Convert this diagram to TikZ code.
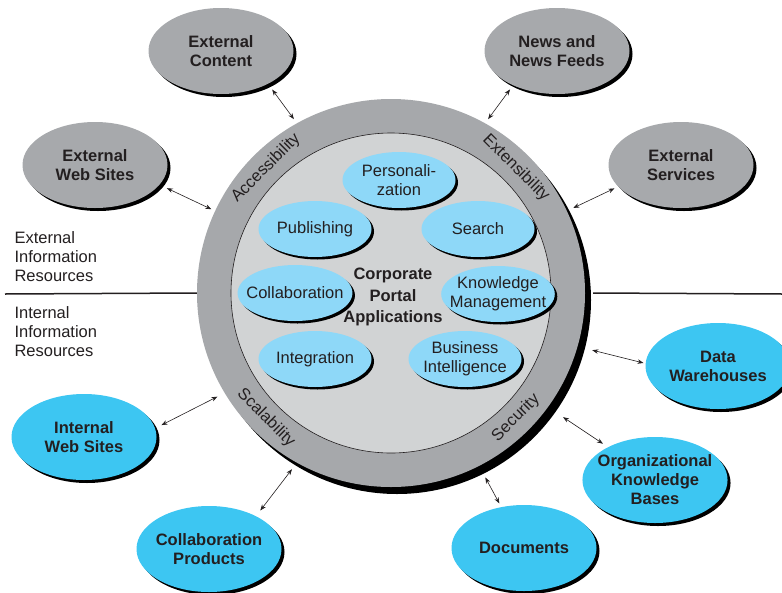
\documentclass[tikz,border=0pt]{standalone}
\usepackage{fontspec}
\setmainfont{Liberation Sans}
\usetikzlibrary{shapes.geometric,shadows,arrows.meta}

\definecolor{extgray}{HTML}{A7A9AC}
\definecolor{ringgray}{HTML}{A6A8AB}
\definecolor{coregray}{HTML}{D1D3D4}
\definecolor{intblue}{HTML}{3DC6F2}
\definecolor{appblue}{HTML}{8ED8F8}
\definecolor{textdark}{HTML}{231F20}

\newcommand{\diagfont}{\fontsize{16.5}{19}\selectfont}

\begin{document}
\begin{tikzpicture}[x=1pt, y=-1pt,
  resource/.style={ellipse, minimum width=145pt, minimum height=86pt, inner xsep=-6pt, inner ysep=0pt,
    align=center, font=\diagfont\bfseries, text=textdark,
    drop shadow={shadow xshift=3pt, shadow yshift=-3pt, fill=black, opacity=1}},
  external/.style={resource, fill=extgray},
  internal/.style={resource, fill=intblue},
  app/.style={ellipse, minimum width=113pt, minimum height=56pt, inner xsep=-8pt, inner ysep=0pt,
    align=center, fill=appblue, font=\diagfont, text=textdark,
    drop shadow={shadow xshift=2.5pt, shadow yshift=-2.5pt, fill=black, opacity=1}},
  quality/.style={font=\diagfont, text=textdark},
  sidenote/.style={font=\diagfont, text=textdark, align=left, anchor=west},
  link/.style={{Stealth[length=6pt,width=4.5pt]}-{Stealth[length=6pt,width=4.5pt]}, line width=0.6pt, textdark},
  divider/.style={line width=1.5pt, textdark}]
  \useasboundingbox (0,0) rectangle (782,592);

  % Dividing line between external and internal resources
  \coordinate (divL) at (5,294);
  \coordinate (divR) at (782,294);
  \node[circle, minimum size=388pt, inner sep=0pt] (portalbox) at (391,293) {};
  \draw[divider] (divL) -- (portalbox.west);
  \draw[divider] ([xshift=8pt]portalbox.east) -- (divR);
  \node[sidenote] (extnote) at (11,257) {External\\Information\\Resources};
  \node[sidenote] (intnote) at (11,332) {Internal\\Information\\Resources};

  % Portal ring and core
  \node[circle, minimum size=388pt, inner sep=0pt, fill=ringgray,
    drop shadow={shadow xshift=6pt, shadow yshift=-7pt, fill=black, opacity=1}] (portal) at (391,293) {};
  \node[circle, minimum size=320pt, inner sep=0pt, fill=coregray, draw=textdark, line width=0.6pt] (core) at (391,293) {};

  % Qualities written along the ring
  \node[quality, rotate=45] (access) at (266,168) {Accessibility};
  \node[quality, rotate=-45] (extens) at (516,168) {Extensibility};
  \node[quality, rotate=-45] (scal) at (266,418) {Scalability};
  \node[quality, rotate=45] (secur) at (516,418) {Security};

  % Portal applications
  \node[app] (personal) at (399,180) {Personali-\\zation};
  \node[app] (publishing) at (315,229) {Publishing};
  \node[app] (search) at (478,229) {Search};
  \node[app] (collab) at (295,293) {Collaboration};
  \node[app] (knowledge) at (498,294) {Knowledge\\Management};
  \node[app] (integration) at (315,359) {Integration};
  \node[app] (business) at (465,359) {Business\\Intelligence};
  \node[font=\fontsize{16.5}{21.5}\selectfont\bfseries, text=textdark, align=center] (center) at (393,297) {Corporate\\Portal\\Applications};

  % External information resources
  \node[external] (extcontent) at (221,51) {External\\Content};
  \node[external] (newsfeeds) at (557,51) {News and\\News Feeds};
  \node[external] (extweb) at (95,165) {External\\Web Sites};
  \node[external] (extserv) at (681,165) {External\\Services};

  % Internal information resources
  \node[internal] (intweb) at (84,437) {Internal\\Web Sites};
  \node[internal] (collabprod) at (209,549) {Collaboration\\Products};
  \node[internal] (warehouses) at (718,366) {Data\\Warehouses};
  \node[internal] (orgkb) at (655,480) {Organizational\\Knowledge\\Bases};
  \node[internal] (documents) at (524,548) {Documents};

  % Two-way links to the portal
  \draw[link, shorten <=7pt, shorten >=5pt] (extcontent.-35) -- (portal.119);
  \draw[link, shorten <=8pt, shorten >=4pt] (extweb.-17) -- (portal.155);
  \draw[link, shorten <=5pt, shorten >=5pt] (newsfeeds.218) -- (portal.61);
  \draw[link, shorten <=4pt, shorten >=7pt] (extserv.199) -- (portal.25);
  \draw[link, shorten <=7pt, shorten >=8pt] (intweb.7) -- (portal.211);
  \draw[link, shorten <=7pt, shorten >=8pt] (collabprod.35) -- (portal.241);
  \draw[link, shorten <=2pt, shorten >=15pt] (warehouses.178) -- (portal.-16);
  \draw[link, shorten <=6pt, shorten >=18pt] (orgkb.145) -- (portal.-36);
  \draw[link, shorten <=4pt, shorten >=13pt] (documents.119) -- (portal.-63);
\end{tikzpicture}
\end{document}
